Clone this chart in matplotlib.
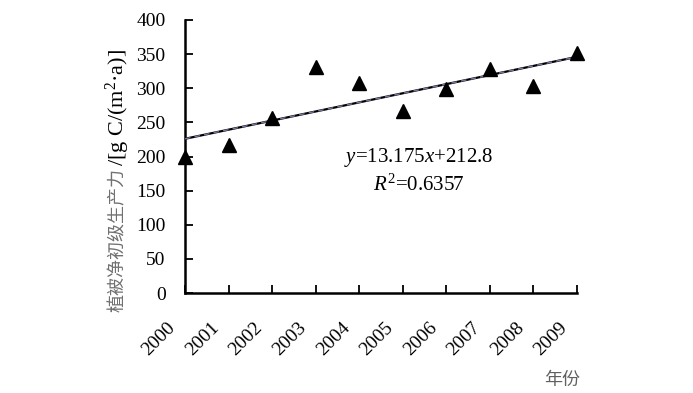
import numpy as np
import matplotlib.pyplot as plt
from matplotlib.transforms import ScaledTranslation

years = [2000, 2001, 2002, 2003, 2004, 2005, 2006, 2007, 2008, 2009]
npp = [199, 217, 256, 331, 308, 267, 299, 328, 303, 352]
y_ticks = [0, 50, 100, 150, 200, 250, 300, 350, 400]

plt.rcParams['font.family'] = ['Liberation Serif', 'Noto Sans CJK SC']
plt.rcParams['mathtext.fontset'] = 'custom'
plt.rcParams['mathtext.rm'] = 'Liberation Serif'
plt.rcParams['mathtext.it'] = 'Liberation Serif:italic'

fig = plt.figure(figsize=(6.93, 3.93), dpi=100)
ax = fig.add_axes([185 / 693, 100 / 393, 392 / 693, 273 / 393])

# trend line from the data (solid + dashed overlay)
x = np.array(years)
k, b = np.polyfit(x - 1999, npp, 1)
fit = k * (x - 1999) + b
ax.plot(x, fit, color='black', lw=1.6, zorder=2)
ax.plot(x, fit, color='#7878a0', lw=1.0, ls=(0, (4, 3)), zorder=3)

ax.plot(years, npp, ls='none', marker='^', ms=10, color='black', zorder=4, clip_on=False)

ax.set_xlim(2000, 2009)
ax.set_ylim(0, 400)
ax.set_yticks(y_ticks)
ax.set_xticks(years)
ax.set_xticklabels([str(v) for v in years], rotation=45, ha='right', va='center',
                   rotation_mode='anchor', fontsize=15)
ax.tick_params(direction='in', length=6, width=1.3, labelsize=14)
ax.tick_params(axis='y', pad=14)
ax.tick_params(axis='x', pad=0)
off = ScaledTranslation(-0.12, -0.32, fig.dpi_scale_trans)
for lab in ax.get_xticklabels():
    lab.set_transform(lab.get_transform() + off)
for s in ['top', 'right']:
    ax.spines[s].set_visible(False)
for s in ['left', 'bottom']:
    ax.spines[s].set_linewidth(1.8)

ax.text(2005.37, 199, r'$y$=13.175$x$+212.8', ha='center', va='center', fontsize=15)
ax.text(2005.37, 158, r'$R^{\mathrm{2}}$=0.6357', ha='center', va='center', fontsize=15)

# y label: Chinese part gray, unit part black
fig.text(118 / 693, (393 - 312) / 393, '植被净初级生产力', rotation=90, ha='center',
         va='bottom', color='#707070', fontsize=13, family='Noto Sans CJK SC')
fig.text(118 / 693, (393 - 166) / 393, '/[g C/(m$^{\\mathrm{2}}$·a)]', rotation=90,
         ha='center', va='bottom', color='black', fontsize=16)

fig.text(562 / 693, (393 - 380) / 393, '年份', ha='center', va='center',
         color='#606060', fontsize=13, family='Noto Sans CJK SC')

fig.savefig('out.png', dpi=100)
